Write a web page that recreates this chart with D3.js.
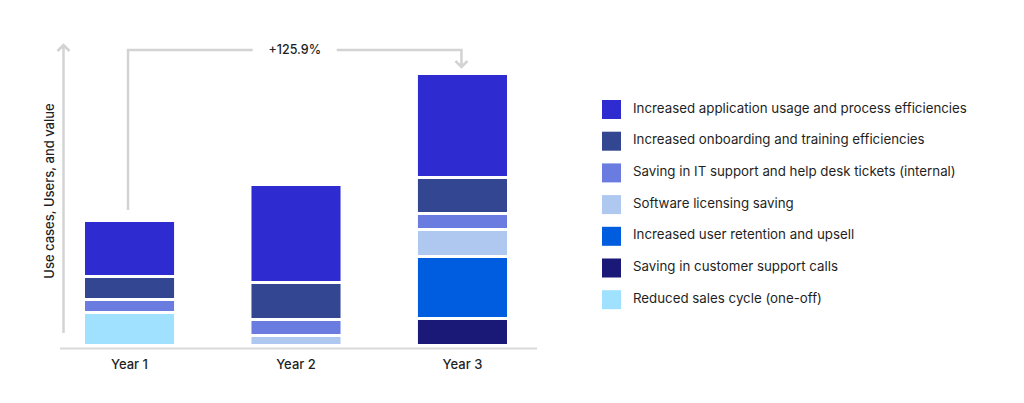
<!DOCTYPE html>
<head>
  <meta charset="utf-8">
  <script src="https://cdn.jsdelivr.net/npm/d3@7"></script>
  <style>
    body { margin: 0; background: #fff; }
    text { font-family: Inter, "Noto Sans", sans-serif; fill: #1f1f1f; }
  </style>
</head>
<body>
<script>

  // data (relative value units)
  let years = ["Year 1", "Year 2", "Year 3"];

  let categories = [
    "Increased application usage and process efficiencies",
    "Increased onboarding and training efficiencies",
    "Saving in IT support and help desk tickets (internal)",
    "Software licensing saving",
    "Increased user retention and upsell",
    "Saving in customer support calls",
    "Reduced sales cycle (one-off)"
  ];

  let colors = ["#2e2bd1", "#334691", "#6a7ce0", "#aec8f0", "#005de0", "#1b1978", "#a0e1ff"];

  // stacking order, bottom to top
  let stackOrder = [
    "Saving in customer support calls",
    "Increased user retention and upsell",
    "Reduced sales cycle (one-off)",
    "Software licensing saving",
    "Saving in IT support and help desk tickets (internal)",
    "Increased onboarding and training efficiencies",
    "Increased application usage and process efficiencies"
  ];

  let applicationUsage = [56, 98, 104];
  let onboarding       = [23, 37, 36];
  let itSupport        = [13, 16, 16];
  let licensing        = [0, 10, 27];
  let userRetention    = [0, 0, 62];
  let supportCalls     = [0, 0, 27];
  let salesCycle       = [33, 0, 0];

  let growthLabel = "+125.9%";
  let yLabel = "Use cases, Users, and value";

  let seriesValues = [applicationUsage, onboarding, itSupport, licensing, userRetention, supportCalls, salesCycle];

  let svg_width = 1024;
  let svg_height = 403;
  let gap = 3;

  let table = years.map(function (y, i) {
    let row = {year: y};
    categories.forEach(function (c, j) { row[c] = seriesValues[j][i]; });
    return row;
  });

  let color = d3.scaleOrdinal().domain(categories).range(colors);

  let xScale = d3.scaleBand()
          .domain(years)
          .range([85, 507])
          .paddingInner(0.465);

  let yScale = d3.scaleLinear()
          .domain([0, 300])
          .range([344, 44]);

  let stacked = d3.stack().keys(stackOrder)(table);

  let svg = d3.select("body").append("svg")
          .attr("width", svg_width)
          .attr("height", svg_height);

  // bars
  stacked.forEach(function (layer) {
    svg.append("g")
            .selectAll("rect")
            .data(layer.filter(function (d) { return d[1] - d[0] > 0; }))
            .enter()
            .append("rect")
            .attr("x", function (d) { return xScale(d.data.year); })
            .attr("y", function (d) { return yScale(d[1]) + gap; })
            .attr("width", xScale.bandwidth())
            .attr("height", function (d) { return yScale(d[0]) - yScale(d[1]) - gap; })
            .attr("fill", color(layer.key));
  });

  // x axis line
  svg.append("line")
          .attr("x1", 60).attr("x2", 537)
          .attr("y1", 348.5).attr("y2", 348.5)
          .attr("stroke", "#d9d9d9")
          .attr("stroke-width", 2);

  // y axis arrow
  let gray = "#d3d3d3";
  svg.append("path")
          .attr("d", "M63.5,333V46M57.5,51L63.5,45L69.5,51")
          .attr("fill", "none")
          .attr("stroke", gray)
          .attr("stroke-width", 2.5);

  svg.append("text")
          .attr("transform", "translate(53.5," + 191 + ") rotate(-90)")
          .attr("text-anchor", "middle")
          .style("font-size", "13px")
          .style("font-weight", 500)
          .text(yLabel);

  // year labels
  svg.selectAll(".year")
          .data(years)
          .enter()
          .append("text")
          .attr("class", "year")
          .attr("x", function (d) { return xScale(d) + xScale.bandwidth() / 2; })
          .attr("y", 369)
          .attr("text-anchor", "middle")
          .style("font-size", "13px")
          .style("font-weight", 500)
          .text(function (d) { return d; });

  // growth bracket
  let totals = table.map(function (r) { return d3.sum(categories, function (c) { return r[c]; }); });
  let x1 = xScale(years[0]) + xScale.bandwidth() / 2 - 1.5;
  let x3 = xScale(years[2]) + xScale.bandwidth() / 2 - 1;
  let yTop = 50;
  let midX = (x1 + x3) / 2;

  svg.append("path")
          .attr("d", "M" + x1 + "," + (yScale(totals[0]) - 9) + "V" + yTop + "H" + (midX - 42)
                  + "M" + (midX + 42) + "," + yTop + "H" + x3 + "V" + (yScale(totals[2]) - 6)
                  + "M" + (x3 - 6) + "," + (yScale(totals[2]) - 11) + "L" + x3 + "," + (yScale(totals[2]) - 5)
                  + "L" + (x3 + 6) + "," + (yScale(totals[2]) - 11))
          .attr("fill", "none")
          .attr("stroke", gray)
          .attr("stroke-width", 2.5);

  svg.append("text")
          .attr("x", midX)
          .attr("y", 54)
          .attr("text-anchor", "middle")
          .style("font-size", "12.5px")
          .style("font-weight", 500)
          .text(growthLabel);

  // legend
  let legend = svg.selectAll(".legend")
          .data(categories)
          .enter()
          .append("g")
          .attr("class", "legend")
          .attr("transform", function (d, i) { return "translate(602," + (100 + i * 31.7) + ")"; });

  legend.append("rect")
          .attr("width", 19)
          .attr("height", 19)
          .attr("fill", function (d) { return color(d); });

  legend.append("text")
          .attr("x", 31)
          .attr("y", 12.5)
          .style("font-size", "13.3px")
          .text(function (d) { return d; });

</script>
</body>
